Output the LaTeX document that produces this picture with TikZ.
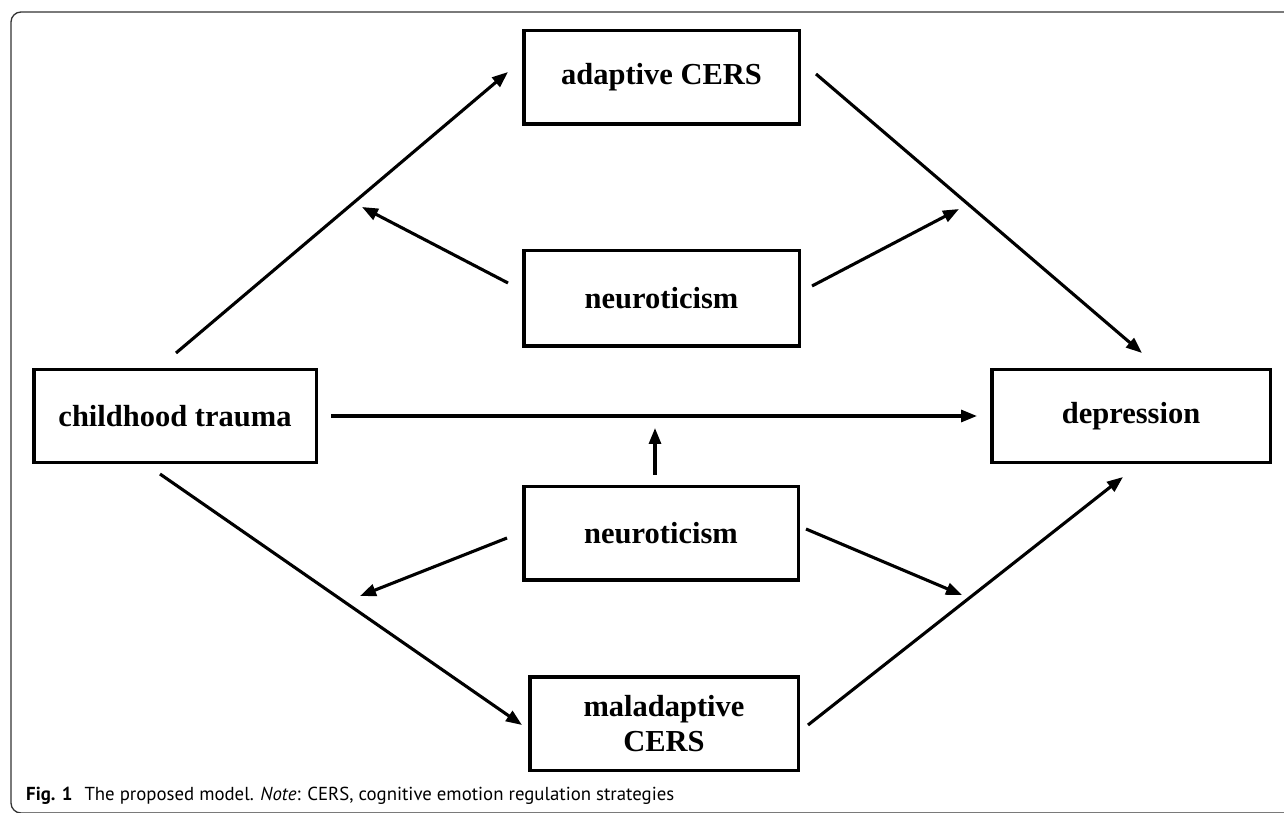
\documentclass[tikz,border=0pt]{standalone}
\usepackage{fontspec}
\setmainfont{Liberation Serif}
\newfontfamily\capfont{PT Sans}
\usetikzlibrary{arrows.meta,calc}
\begin{document}
\begin{tikzpicture}[x=1pt,y=1pt,
  box/.style={draw=black, line width=3.5pt, rectangle, inner sep=0pt, align=center,
              font=\fontsize{30.5}{35}\selectfont\bfseries},
  arr/.style={line width=3.1pt, -{Triangle[length=16pt,width=12pt]}},
  frame/.style={line width=1.3pt, draw=black!80, rounded corners=10pt}
  ]
\useasboundingbox (0,0) rectangle (1284,812);
\draw[frame] (1300,-1) -- (11,-1) -- (11,800) -- (1300,800);

\node[box, minimum width=275.5pt, minimum height=93.5pt] (ad) at (661.5,734.5) {adaptive CERS};
\node[box, minimum width=275.5pt, minimum height=95.5pt] (n1) at (661.5,513.5) {neuroticism};
\node[box, minimum width=282.5pt, minimum height=92.5pt] (ct) at (175,396) {childhood trauma};
\node[box, minimum width=278.5pt, minimum height=92.5pt] (dep) at (1131,396) {depression};
\node[box, minimum width=274.5pt, minimum height=93.5pt] (n2) at (661,279) {neuroticism};
\node[box, minimum width=268.5pt, minimum height=93.5pt] (mal) at (664,88.5) {maladaptive\\CERS};

\coordinate (t1) at (362,605);
\coordinate (t2) at (959,603);
\coordinate (t3) at (655,384);
\coordinate (t4) at (360,216);
\coordinate (t5) at (962,217);

\draw[arr] ([shift={(1,15)}]ct.north) -- ([shift={(-14,5.5)}]ad.west);
\draw[arr] ([shift={(-14,15.5)}]n1.west) -- (t1);
\draw[arr] ([shift={(15,3.5)}]ad.east) -- ([shift={(11,15)}]dep.north);
\draw[arr] ([shift={(11,12.5)}]n1.east) -- (t2);
\draw[arr] ([xshift=13pt]ct.east) -- ([xshift=-13pt]dep.west);
\draw[arr] ([shift={(-6,10)}]n2.north) -- (t3);
\draw[arr] ([shift={(-15,-10)}]ct.south) -- ([shift={(-6,-1.5)}]mal.west);
\draw[arr] ([shift={(-15,-5)}]n2.west) -- (t4);
\draw[arr] ([shift={(6,4)}]n2.east) -- (t5);
\draw[arr] ([shift={(8,-1.5)}]mal.east) -- ([shift={(-8,-13)}]dep.south);

\node[anchor=base west, inner sep=0pt, font=\capfont\fontsize{18.8}{21}\selectfont] (cap) at (26,12)
  {\textbf{Fig. 1}\hspace{12pt}The proposed model. \textit{Note}: CERS, cognitive emotion regulation strategies};
\end{tikzpicture}
\end{document}
